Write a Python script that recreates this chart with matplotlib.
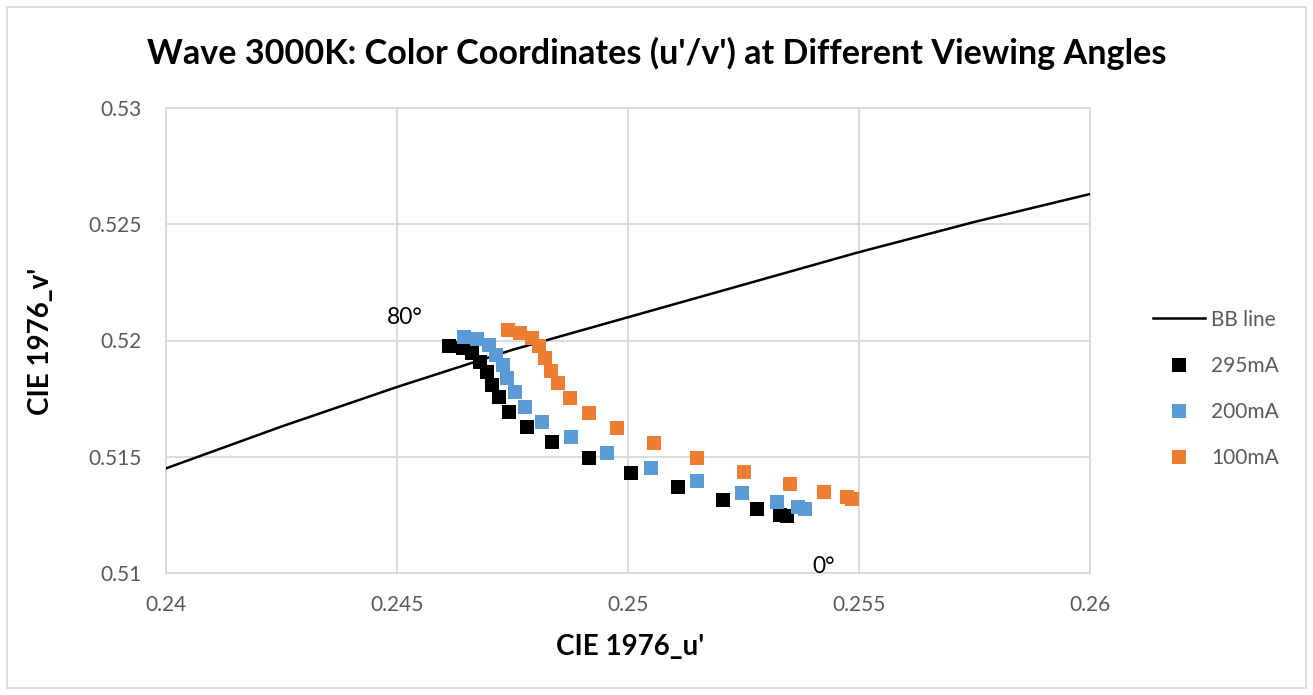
import matplotlib
matplotlib.use("Agg")
import matplotlib.pyplot as plt
from matplotlib.patches import FancyBboxPatch

plt.rcParams['font.family'] = ['Lato', 'DejaVu Sans']

# Black body (Planckian) line
bb_u = [0.2400, 0.2425, 0.2450, 0.2475, 0.2500, 0.2525, 0.2550, 0.2575, 0.2600]
bb_v = [0.5145, 0.5163, 0.5180, 0.5196, 0.5210, 0.5224, 0.5238, 0.5251, 0.5263]

# Viewing angles 0..80 deg (5 deg steps); listed from 0 deg to 80 deg
u_295 = [0.25344, 0.25329, 0.25279, 0.25206, 0.25108, 0.25006, 0.24916, 0.24835, 0.24781,
         0.24742, 0.24721, 0.24706, 0.24695, 0.24680, 0.24662, 0.24643, 0.24613]
v_295 = [0.51245, 0.51249, 0.51275, 0.51314, 0.51370, 0.51430, 0.51495, 0.51563, 0.51628,
         0.51692, 0.51757, 0.51809, 0.51865, 0.51908, 0.51946, 0.51968, 0.51976]

u_200 = [0.25383, 0.25368, 0.25323, 0.25247, 0.25149, 0.25050, 0.24955, 0.24877, 0.24814,
         0.24777, 0.24755, 0.24738, 0.24729, 0.24714, 0.24699, 0.24673, 0.24645]
v_200 = [0.51275, 0.51284, 0.51305, 0.51344, 0.51396, 0.51452, 0.51516, 0.51585, 0.51649,
         0.51714, 0.51778, 0.51839, 0.51895, 0.51938, 0.51981, 0.52006, 0.52015]

u_100 = [0.25485, 0.25474, 0.25424, 0.25351, 0.25251, 0.25149, 0.25056, 0.24976, 0.24916,
         0.24874, 0.24848, 0.24833, 0.24820, 0.24807, 0.24792, 0.24766, 0.24740]
v_100 = [0.51318, 0.51327, 0.51348, 0.51383, 0.51434, 0.51495, 0.51559, 0.51624, 0.51688,
         0.51753, 0.51817, 0.51869, 0.51925, 0.51976, 0.52011, 0.52032, 0.52045]

x_ticks = [0.24, 0.245, 0.25, 0.255, 0.26]
x_tick_labels = ['0.24', '0.245', '0.25', '0.255', '0.26']
y_ticks = [0.51, 0.515, 0.52, 0.525, 0.53]
y_tick_labels = ['0.51', '0.515', '0.52', '0.525', '0.53']

title = "Wave 3000K: Color Coordinates (u'/v') at Different Viewing Angles"

fig = plt.figure(figsize=(13.13, 6.95), dpi=100)
ax = fig.add_axes([166/1313, 1-573/695, (1090-166)/1313, (573-108)/695])

grid_c = '#D9D9D9'
ax.plot(bb_u, bb_v, color='black', lw=1.8, label='BB line', zorder=3)
ms = 10.5
ax.plot(u_295, v_295, 's', color='#000000', ms=ms, mew=0, label='295mA', zorder=4)
ax.plot(u_200, v_200, 's', color='#5B9BD5', ms=ms, mew=0, label='200mA', zorder=4)
ax.plot(u_100, v_100, 's', color='#ED7D31', ms=ms, mew=0, label='100mA', zorder=4)

ax.set_xlim(0.24, 0.26)
ax.set_ylim(0.51, 0.53)
ax.set_xticks(x_ticks)
ax.set_xticklabels(x_tick_labels)
ax.set_yticks(y_ticks)
ax.set_yticklabels(y_tick_labels)
ax.grid(True, color=grid_c, lw=1.3)
ax.set_axisbelow(True)
for s in ax.spines.values():
    s.set_color(grid_c)
    s.set_linewidth(1.3)
ax.tick_params(length=0, labelsize=15, labelcolor='#595959')
ax.tick_params(axis='y', pad=17.5)
ax.tick_params(axis='x', pad=15.5)

ax.text(0.24517, 0.52097, '80°', fontsize=16.5, ha='center', va='center', color='black')
ax.text(0.25424, 0.51030, '0°', fontsize=16.5, ha='center', va='center', color='black')

fig.text(657/1313, 1-53/695, title, fontsize=24.6, fontweight='bold', ha='center', va='center')
fig.text(630/1313, 1-647/695, "CIE 1976_u'", fontsize=20, fontweight='bold', ha='center', va='center')
fig.text(41/1313, 1-341/695, "CIE 1976_v'", fontsize=20, fontweight='bold', ha='center', va='center',
         rotation=90)

leg = fig.legend(loc='center left', bbox_to_anchor=(1153/1313, 1-389/695), frameon=False,
                 borderpad=0, borderaxespad=0,
                 fontsize=15, labelspacing=1.26, handlelength=2.5, handletextpad=0.3,
                 labelcolor='#595959')

border = FancyBboxPatch((7/1313, 7/695), (1306-7)/1313, (688-7)/695, boxstyle='square,pad=0',
                        transform=fig.transFigure, fill=False, edgecolor=grid_c, lw=1.3)
fig.patches.append(border)

fig.savefig('out.png', dpi=100)
